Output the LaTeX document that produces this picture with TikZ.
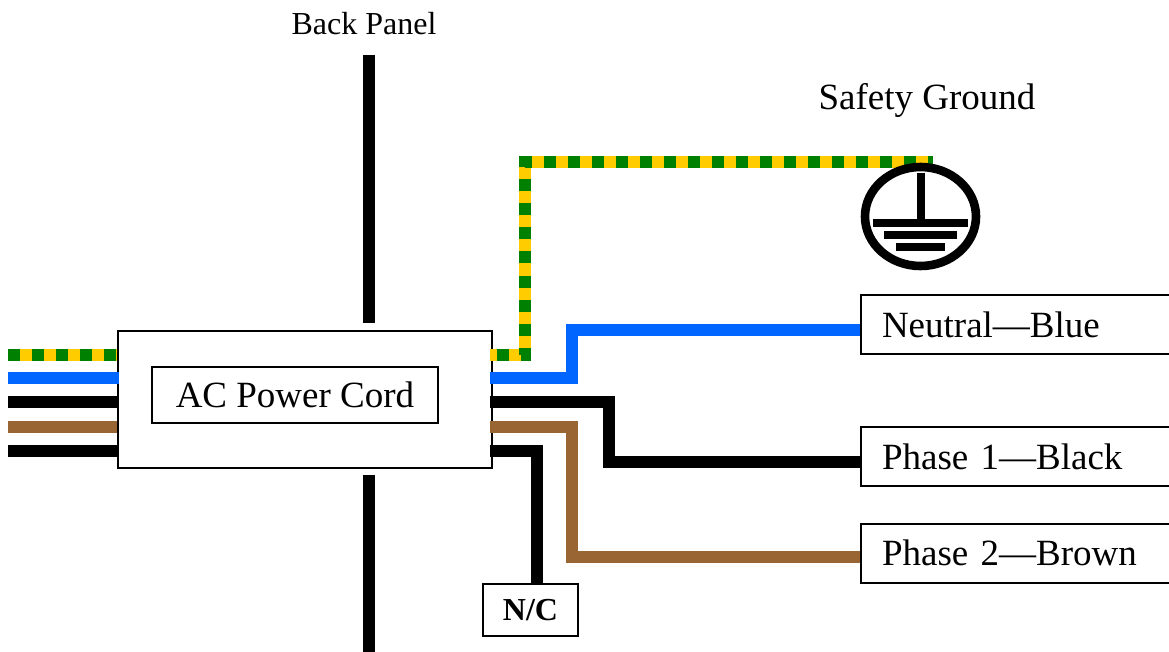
\documentclass[tikz,border=0pt]{standalone}
\usepackage{fontspec}
\setmainfont{Liberation Serif}
\usepackage{xcolor}
\usepackage{tikz}
\usetikzlibrary{shapes.geometric}

\definecolor{wireblue}{RGB}{0,102,255}
\definecolor{wirebrown}{RGB}{153,102,51}
\definecolor{wiregreen}{RGB}{0,128,0}
\definecolor{wireyellow}{RGB}{255,204,0}

\begin{document}
\begin{tikzpicture}[x=1pt,y=-1pt,
    every node/.style={inner sep=0pt},
    wire/.style={line width=11.5pt, line join=miter},
    pewire/.style={wire, wireyellow},
    pedash/.style={wire, wiregreen, dash pattern=on 12pt off 12pt},
    frame/.style={draw=black, line width=2pt, fill=white},
    tag/.style={frame, anchor=west, minimum height=59pt, text width=290pt, inner xsep=21pt, align=left, font=\fontsize{37}{40}\selectfont},
    big/.style={font=\fontsize{37}{40}\selectfont}]
        \useasboundingbox (0,0) rectangle (1169,652);
        % back panel
        \draw [black, line width=12pt] (369,55) -- (369,323);
        \draw [black, line width=12pt] (369,475) -- (369,652);
        \node [anchor=base, font=\fontsize{32}{36}\selectfont] (panel) at (364,35) {Back Panel};
        % power cord
        \node [frame, minimum width=374pt, minimum height=137pt] (cord) at (304.5,399) {};
        \node [frame, minimum width=286pt, minimum height=56pt, big] (cordlabel) at (295,395) {AC Power Cord};
        \coordinate (cordL) at ([xshift=2pt]cord.west);
        \coordinate (cordR) at ([xshift=-3pt]cord.east);
        % terminals
        \node [tag] (neutral) at (860,324.5) {Neutral—Blue};
        \node [tag] (phaseone) at (860,456.7) {Phase 1—Black};
        \node [tag] (phasetwo) at (860,553) {Phase 2—Brown};
        \node [frame, minimum width=95pt, minimum height=52pt, font=\fontsize{32}{36}\selectfont\bfseries] (nc) at (530.5,610) {N/C};
        \node [anchor=base, big] (safety) at (927,110) {Safety Ground};
        \coordinate (gnd) at (933,162);
        % wires in
        \coordinate (inpe) at (8,355);
        \coordinate (inn) at (8,378);
        \coordinate (inla) at (8,402);
        \coordinate (inlb) at (8,427);
        \coordinate (inlc) at (8,451);
        \draw [pewire] (inpe) -- (cord.west |- inpe);
        \draw [pedash] (inpe) -- (cord.west |- inpe);
        \draw [wire, wireblue] (inn) -- (cordL |- inn);
        \draw [wire, black] (inla) -- (cord.west |- inla);
        \draw [wire, wirebrown] (inlb) -- (cord.west |- inlb);
        \draw [wire, black] (inlc) -- (cord.west |- inlc);
        % wires out
        \draw [pewire] (cordR |- 0,355) -| (525,162) -- (gnd);
        \draw [pedash, dash phase=17pt] (cordR |- 0,355) -| (525,162) -- (gnd);
        \draw [wire, wireblue] (cordR |- 0,378) -| (572,330) -- (neutral.west |- 0,330);
        \draw [wire, black] (cordR |- 0,402) -| (609,462) -- (phaseone.west |- 0,462);
        \draw [wire, wirebrown] (cordR |- 0,427) -| (572,557) -- (phasetwo.west |- 0,557);
        \draw [wire, black] (cordR |- 0,451) -| (nc.north -| 537,0);
        % earth symbol
        \node [draw=black, ellipse, line width=8.6pt, fill=white, minimum width=111pt, minimum height=99pt] (earth) at (920.5,216.5) {};
        \draw [black, line width=8pt] ([yshift=43.5pt]earth.center) -- ([yshift=-3.5pt]earth.center);
        \foreach \dy/\hw in {6.5/47.8, 18.2/36.2, 30.2/24.2}
            \draw [black, line width=7.7pt] ([shift={(-\hw,\dy)}]earth.center) -- ([shift={(\hw,\dy)}]earth.center);
\end{tikzpicture}
\end{document}
